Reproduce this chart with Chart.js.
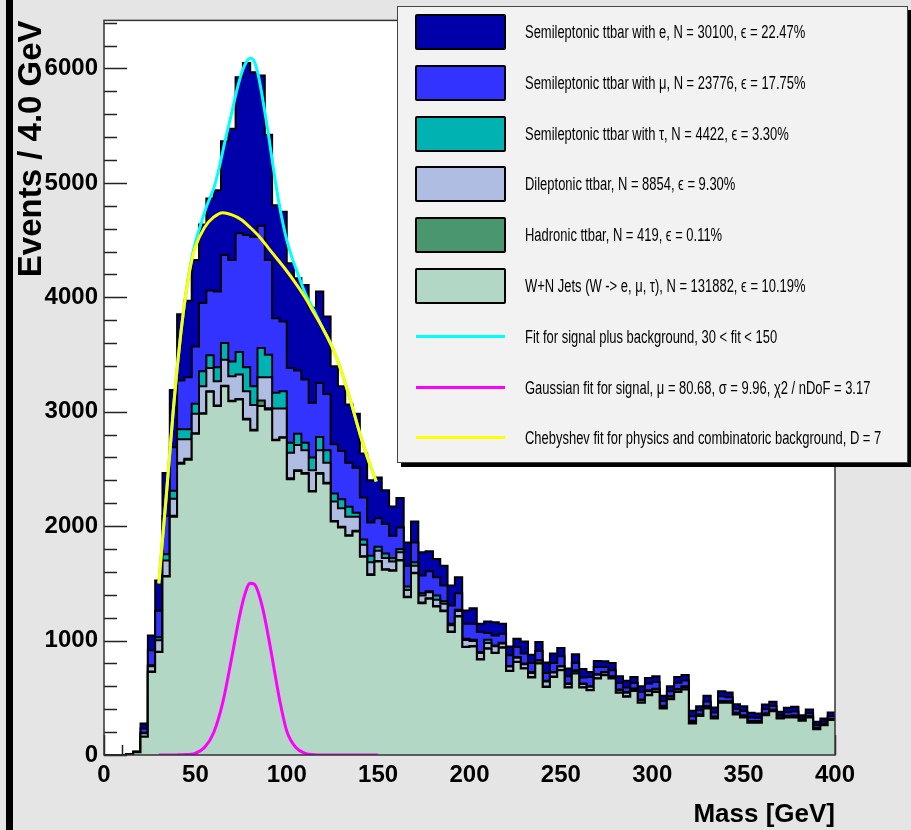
<!DOCTYPE html>
<html>
<head>
<meta charset="utf-8">
<script src="https://cdn.jsdelivr.net/npm/chart.js@4.4.1/dist/chart.umd.min.js"></script>
<style>
  body { margin: 0; background: #e5e5e5; }
  #wrap { position: relative; width: 911px; height: 830px; overflow: hidden; }
  #stripe { position: absolute; left: 6px; top: 0; width: 7px; height: 830px; background: #000; }
  #plot { position: absolute; left: 0; top: 0; }
  #legend {
    position: absolute; left: 397px; top: 6px; width: 509px; height: 455px;
    background: #f2f2f2; border: 1px solid #444; box-shadow: 4px 4px 0 #000;
    font-family: "Liberation Sans", Arial, sans-serif; font-size: 18px; color: #000;
  }
  .row { position: absolute; left: 0; width: 100%; height: 36px; }
  .swatch { position: absolute; left: 17px; top: 0; width: 91px; height: 36px; box-sizing: border-box; border: 2px solid #000; border-radius: 2px; }
  .lineKey { position: absolute; left: 18px; top: 16px; width: 89px; height: 3px; }
  .label { position: absolute; left: 127px; top: 0; line-height: 36px; white-space: nowrap; transform: scaleX(0.72); transform-origin: left center; }
</style>
</head>
<body>
<div id="wrap">
  <div id="stripe"></div>
  <canvas id="plot" width="911" height="830"></canvas>
  <div id="legend"></div>
</div>
<script>
'use strict';

// histogram binning: 100 bins of 4 GeV from 0 to 400
const binWidth = 4;

// W+N jets background (bottom of the stack)
const wJets = [0, 0, 0, 4, 25, 160, 726, 900, 1559, 2082,
  2546, 2580, 2808, 2982, 3174, 3049, 3223, 3092, 3107, 2933,
  2837, 3049, 3020, 2750, 2773, 2410, 2483, 2459, 2302, 2459,
  2372, 2041, 1989, 1916, 1954, 1733, 1574, 1690, 1618, 1610,
  1699, 1379, 1588, 1327, 1365, 1298, 1257, 1074, 1211, 944,
  949, 834, 929, 891, 938, 734, 813, 755, 677, 799,
  595, 682, 740, 590, 712, 590, 566, 668, 697, 668,
  543, 508, 560, 456, 523, 551, 407, 488, 551, 572,
  276, 340, 407, 319, 456, 456, 354, 328, 282, 282,
  348, 383, 319, 328, 328, 299, 328, 224, 261, 305];

const hadronic = [0, 0, 0, 0, 0, 0, 3, 3, 5, 8,
  8, 8, 5, 5, 5, 5, 5, 5, 5, 6,
  5, 50, 10, 5, 5, 8, 5, 5, 5, 5,
  8, 5, 5, 5, 5, 5, 5, 5, 5, 5,
  5, 5, 5, 5, 5, 5, 5, 5, 3, 3,
  3, 3, 3, 3, 3, 3, 3, 3, 5, 3,
  3, 3, 3, 3, 3, 3, 3, 3, 3, 3,
  3, 5, 3, 3, 3, 3, 3, 3, 3, 3,
  3, 2, 2, 2, 2, 2, 2, 2, 2, 2,
  2, 2, 1, 2, 2, 1, 1, 1, 1, 1];

const dileptonic = [0, 0, 0, 0, 2, 30, 46, 100, 136, 150,
  205, 171, 170, 236, 203, 213, 227, 213, 213, 241,
  216, 202, 271, 274, 251, 224, 221, 199, 182, 199,
  175, 169, 163, 161, 123, 100, 105, 91, 99, 77,
  67, 59, 62, 62, 53, 53, 60, 55, 45, 59,
  44, 55, 47, 56, 33, 36, 34, 36, 35, 22,
  45, 36, 30, 27, 20, 27, 27, 30, 21, 12,
  21, 30, 13, 21, 32, 20, 15, 17, 18, 20,
  15, 10, 15, 12, 10, 8, 10, 12, 10, 10,
  10, 8, 5, 10, 12, 5, 8, 8, 5, 6];

const semiTau = [0, 0, 0, 0, 0, 4, 10, 25, 55, 70,
  87, 87, 86, 131, 111, 121, 145, 130, 197, 208,
  165, 256, 198, 136, 151, 87, 99, 66, 110, 116,
  108, 70, 79, 87, 35, 46, 58, 35, 40, 30,
  29, 29, 29, 20, 8, 38, 22, 13, 10, 10,
  12, 8, 29, 8, 7, 5, 6, 5, 9, 4,
  5, 5, 5, 5, 5, 5, 5, 5, 5, 5,
  5, 8, 5, 5, 7, 5, 5, 5, 5, 5,
  5, 3, 3, 3, 3, 3, 3, 3, 3, 3,
  3, 3, 2, 3, 3, 2, 2, 2, 2, 2];

const semiMu = [0, 0, 0, 0, 1, 38, 130, 232, 336, 380,
  426, 455, 502, 596, 567, 662, 770, 887, 1037, 1156,
  1307, 1068, 828, 653, 609, 653, 552, 552, 479, 473,
  493, 430, 421, 386, 394, 366, 290, 249, 256, 194,
  189, 183, 174, 154, 174, 159, 137, 160, 145, 131,
  139, 174, 58, 87, 79, 93, 88, 87, 78, 81,
  69, 78, 84, 63, 64, 52, 81, 63, 43, 52,
  58, 39, 49, 66, 60, 60, 42, 44, 55, 52,
  40, 35, 40, 35, 43, 35, 35, 40, 30, 28,
  38, 32, 21, 30, 36, 18, 26, 25, 22, 25];

const semiE = [0, 0, 0, 0, 2, 44, 130, 264, 374, 500,
  581, 669, 756, 687, 804, 886, 993, 1146, 1364, 1504,
  1437, 1313, 1094, 987, 958, 915, 806, 827, 830, 798,
  677, 682, 566, 508, 471, 386, 369, 355, 296, 256,
  256, 203, 183, 203, 175, 160, 174, 174, 139, 116,
  136, 73, 101, 116, 87, 78, 72, 107, 73, 78,
  91, 82, 73, 67, 76, 75, 44, 53, 50, 64,
  58, 58, 52, 50, 49, 49, 45, 44, 50, 48,
  47, 37, 50, 44, 43, 42, 40, 42, 42, 38,
  40, 37, 30, 39, 40, 23, 33, 30, 28, 33];

// fitted curves (mass in GeV, events / 4 GeV)
const sigBkgMass = [30, 32, 34, 36, 38, 40, 42, 44, 46, 48, 50, 53, 56, 60, 63, 66, 70, 73, 76, 78, 80,
  82, 84, 86, 88, 90, 92, 94, 96, 98, 100, 103, 106, 110, 115, 120, 125, 130, 135, 140, 145, 149];
const sigBkgFit = [1500, 1880, 2250, 2640, 3030, 3380, 3680, 3940, 4160, 4340, 4480, 4640, 4790, 4950, 5130, 5350, 5620, 5830, 5990, 6060, 6090,
  6070, 5970, 5810, 5620, 5420, 5200, 4990, 4800, 4640, 4500, 4340, 4210, 4040, 3880, 3720, 3560, 3350, 3090, 2810, 2560, 2390];

const gausMass = [30, 40, 45, 50, 55, 60, 65, 70, 74, 77, 80, 82, 84, 87, 90, 93, 96, 100, 105, 110, 115, 120, 150];
const gausFit = [0, 1, 4, 15, 65, 195, 460, 860, 1200, 1400, 1500, 1495, 1440, 1270, 1030, 760, 490, 210, 65, 15, 3, 0, 0];

const chebyMass = [30, 32, 34, 36, 38, 40, 42, 44, 46, 48, 50, 55, 60, 65, 70, 75, 80, 85, 90, 95,
  100, 105, 110, 115, 120, 125, 130, 135, 140, 145, 149];
const chebyFit = [1500, 1880, 2250, 2640, 3030, 3380, 3680, 3940, 4150, 4320, 4440, 4610, 4700, 4740, 4720, 4680, 4610, 4530, 4430, 4330,
  4230, 4120, 4000, 3860, 3720, 3560, 3350, 3090, 2810, 2560, 2390];

// axis ticks
const yMajorTicks = [0, 1000, 2000, 3000, 4000, 5000, 6000];
const xMajorTicks = [0, 50, 100, 150, 200, 250, 300, 350, 400];
const yMax = 6420, yMinorStep = 200;
const xMax = 400, xMinorStep = 10;

const sans = '"Liberation Sans", Arial, sans-serif';

const histos = [
  { label: 'W+N Jets (W -> e, \u03bc, \u03c4), N = 131882, \u03f5 = 10.19%', data: wJets, color: '#b2d8c5' },
  { label: 'Hadronic ttbar, N = 419, \u03f5 = 0.11%', data: hadronic, color: '#4a966e' },
  { label: 'Dileptonic ttbar, N = 8854, \u03f5 = 9.30%', data: dileptonic, color: '#afbde2' },
  { label: 'Semileptonic ttbar with \u03c4, N = 4422, \u03f5 = 3.30%', data: semiTau, color: '#00b2b2' },
  { label: 'Semileptonic ttbar with \u03bc, N = 23776, \u03f5 = 17.75%', data: semiMu, color: '#3333ff' },
  { label: 'Semileptonic ttbar with e, N = 30100, \u03f5 = 22.47%', data: semiE, color: '#0000aa' }
];

const fits = [
  { label: 'Fit for signal plus background,  30 < fit < 150', mass: sigBkgMass, data: sigBkgFit, color: '#00ffff', order: -1 },
  { label: 'Gaussian fit for signal, \u03bc = 80.68, \u03c3 = 9.96, \u03c72 / nDoF = 3.17', mass: gausMass, data: gausFit, color: '#ff00ff', order: 0 },
  { label: 'Chebyshev fit for physics and combinatoric background, D = 7', mass: chebyMass, data: chebyFit, color: '#ffff00', order: -2 }
];

// THStack style: every layer is drawn as the cumulative sum, filled down to zero
let running = wJets.map(() => 0);
const datasets = histos.map(function(h, k) {
  running = running.map((v, i) => v + h.data[i]);
  const pts = running.map((v, i) => ({ x: i * binWidth, y: v }));
  pts.push({ x: running.length * binWidth, y: running[running.length - 1] });
  return {
    label: h.label,
    data: pts,
    stepped: true,
    fill: 'origin',
    backgroundColor: h.color,
    borderColor: '#000',
    borderWidth: 2,
    pointRadius: 0,
    order: 10 + k
  };
});
fits.forEach(function(f) {
  datasets.push({
    label: f.label,
    data: f.mass.map((m, i) => ({ x: m, y: f.data[i] })),
    fill: false,
    borderColor: f.color,
    borderWidth: 3,
    pointRadius: 0,
    cubicInterpolationMode: 'monotone',
    order: f.order
  });
});

// white pad, inward ROOT-like ticks and the frame
const rootFrame = {
  id: 'rootFrame',
  beforeDraw(chart) {
    const { ctx, chartArea: a } = chart;
    ctx.save();
    ctx.fillStyle = '#fff';
    ctx.fillRect(a.left, a.top, a.right - a.left, a.bottom - a.top);
    ctx.restore();
  },
  beforeDatasetsDraw(chart) {
    const { ctx, chartArea: a, scales } = chart;
    ctx.save();
    ctx.strokeStyle = '#222';
    ctx.lineWidth = 1.5;
    ctx.beginPath();
    for (let v = 0; v <= yMax; v += yMinorStep) {
      const y = Math.round(scales.y.getPixelForValue(v)) + 0.5;
      const len = yMajorTicks.includes(v) ? 23 : 13;
      ctx.moveTo(a.left, y);
      ctx.lineTo(a.left + len, y);
    }
    for (let v = 0; v <= xMax; v += xMinorStep) {
      const x = Math.round(scales.x.getPixelForValue(v)) + 0.5;
      const len = xMajorTicks.includes(v) ? 20 : 10;
      ctx.moveTo(x, a.bottom);
      ctx.lineTo(x, a.bottom - len);
    }
    ctx.stroke();
    ctx.restore();
  },
  afterDatasetsDraw(chart) {
    const { ctx, chartArea: a } = chart;
    ctx.save();
    ctx.strokeStyle = '#333';
    ctx.lineWidth = 1.5;
    ctx.strokeRect(a.left, a.top, a.right - a.left, a.bottom - a.top);
    ctx.restore();
  }
};

new Chart(document.getElementById('plot'), {
  type: 'line',
  data: { datasets: datasets },
  plugins: [rootFrame],
  options: {
    responsive: false,
    animation: false,
    devicePixelRatio: 1,
    events: [],
    layout: { padding: { left: 0, right: 76, top: 18, bottom: 0 } },
    plugins: { legend: { display: false }, tooltip: { enabled: false } },
    scales: {
      x: {
        type: 'linear',
        min: 0,
        max: xMax,
        grid: { display: false, drawTicks: false },
        border: { display: false },
        afterBuildTicks: function(scale) { scale.ticks = xMajorTicks.map(v => ({ value: v })); },
        ticks: {
          autoSkip: false, maxRotation: 0, padding: 6, color: '#000',
          callback: v => String(v),
          font: { family: sans, size: 24, weight: 'bold' }
        },
        title: {
          display: true, text: 'Mass [GeV]', align: 'end', color: '#000',
          padding: { top: 0, bottom: 0 }, font: { family: sans, size: 26, weight: 'bold' }
        },
        afterFit: function(scale) { scale.height = 75; }
      },
      y: {
        min: 0,
        max: yMax,
        grid: { display: false, drawTicks: false },
        border: { display: false },
        afterBuildTicks: function(scale) { scale.ticks = yMajorTicks.map(v => ({ value: v })); },
        ticks: {
          padding: 6, color: '#000',
          callback: v => String(v),
          font: { family: sans, size: 24, weight: 'bold' }
        },
        title: {
          display: true, text: 'Events / 4.0 GeV', align: 'end', color: '#000',
          padding: { top: 12, bottom: 0 }, font: { family: sans, size: 33, weight: 'bold' }
        },
        afterFit: function(scale) { scale.width = 104; }
      }
    }
  }
});

// legend box in the ROOT TLegend layout: filled histograms top-down, then the fits
(function() {
  const box = document.getElementById('legend');
  const entries = histos.slice().reverse().map(h => ({ label: h.label, color: h.color, fill: true }))
    .concat(fits.map(f => ({ label: f.label, color: f.color, fill: false })));
  entries.forEach(function(e, i) {
    const row = document.createElement('div');
    row.className = 'row';
    row.style.top = (7 + i * 50.8) + 'px';
    const key = document.createElement('div');
    key.className = e.fill ? 'swatch' : 'lineKey';
    key.style.background = e.color;
    const txt = document.createElement('div');
    txt.className = 'label';
    txt.textContent = e.label;
    row.appendChild(key);
    row.appendChild(txt);
    box.appendChild(row);
  });
})();
</script>
</body>
</html>
